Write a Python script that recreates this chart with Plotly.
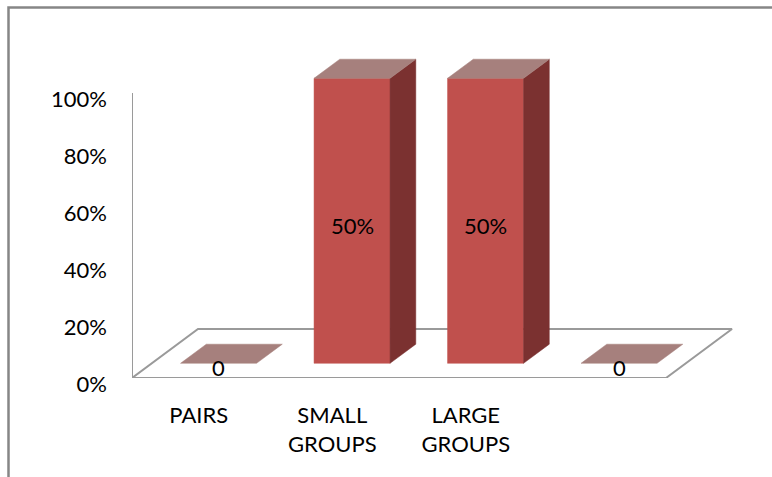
import plotly.graph_objects as go

# ---- data ----
categories = ["PAIRS", "SMALL<br>GROUPS", "LARGE<br>GROUPS", ""]
bar_heights = [0.0, 1.0, 1.0, 0.0]          # plotted height (share of axis)
bar_labels = ["0", "50%", "50%", "0"]       # data labels as printed
y_ticks = [0, 0.2, 0.4, 0.6, 0.8, 1.0]
y_tick_labels = ["0%", "20%", "40%", "60%", "80%", "100%"]

# ---- style / 3D projection parameters ----
FRONT = "#C0504D"
SIDE = "#7B3130"
TOP = "#A6807D"
GRID = "#9A9A9A"
FONT = "Lato"
FS = 22

ML, MR, MT, MB = 132, 0, 22, 99
W, H = 772, 477
PW, PH = W - ML - MR, H - MT - MB
PX_PER_X = 133.5
PX_PER_Y = 285.0
X_MAX = PW / PX_PER_X
Y_MAX = PH / PX_PER_Y

DEPTH_X = 66 / PX_PER_X      # full floor depth expressed in axis units
DEPTH_Y = 49 / PX_PER_Y
D_FRONT, D_BACK = 0.30, 0.69
HALF_W = 38 / PX_PER_X

n = len(categories)
fig = go.Figure()

# floor (outline)
fx = [0, n, n + DEPTH_X, DEPTH_X, 0]
fy = [0, 0, DEPTH_Y, DEPTH_Y, 0]
fig.add_trace(go.Scatter(x=fx, y=fy, mode="lines", line=dict(color=GRID, width=2),
                         hoverinfo="skip", showlegend=False))

ddx = (D_BACK - D_FRONT) * DEPTH_X
ddy = (D_BACK - D_FRONT) * DEPTH_Y


def poly(xs, ys, color):
    fig.add_trace(go.Scatter(x=xs + [xs[0]], y=ys + [ys[0]], mode="lines", fill="toself",
                             fillcolor=color, line=dict(color=color, width=0.5),
                             hoverinfo="skip", showlegend=False))


annotations = []
for i, (v, lab) in enumerate(zip(bar_heights, bar_labels)):
    cx = i + 0.5 + D_FRONT * DEPTH_X
    yb = D_FRONT * DEPTH_Y
    xl, xr = cx - HALF_W, cx + HALF_W
    yt = yb + v
    if v > 0:
        poly([xl, xr, xr, xl], [yb, yb, yt, yt], FRONT)
        poly([xr, xr + ddx, xr + ddx, xr], [yb, yb + ddy, yt + ddy, yt], SIDE)
    poly([xl, xr, xr + ddx, xl + ddx], [yt, yt, yt + ddy, yt + ddy], TOP)
    if v > 0:
        annotations.append(dict(x=cx, y=yb + v / 2, text=lab, showarrow=False,
                                yshift=-5, font=dict(family=FONT, size=FS, color="black")))
    else:
        annotations.append(dict(x=cx, y=yb, text=lab, showarrow=False,
                                yshift=-4, font=dict(family=FONT, size=FS, color="black")))

shapes = [
    # value axis line
    dict(type="line", xref="x", yref="y", x0=0, x1=0, y0=0, y1=y_ticks[-1],
         line=dict(color=GRID, width=2)),
    # chart border
    dict(type="rect", xref="paper", yref="paper",
         x0=(8.5 - ML) / PW, x1=1.05, y0=-0.4, y1=(H - MB - 7.5) / PH,
         line=dict(color="#868686", width=2.5), fillcolor="rgba(0,0,0,0)", layer="above"),
]

fig.update_layout(
    width=W, height=H,
    margin=dict(l=ML, r=MR, t=MT, b=MB, pad=0),
    paper_bgcolor="white", plot_bgcolor="white",
    font=dict(family=FONT, size=FS, color="black"),
    showlegend=False,
    shapes=shapes,
    annotations=annotations,
    xaxis=dict(range=[0, X_MAX], showgrid=False, zeroline=False, showline=False,
               tickvals=[i + 0.5 for i in range(n)], ticktext=categories,
               ticks="", ticklabelstandoff=22, fixedrange=True),
    yaxis=dict(range=[0, Y_MAX], showgrid=False, zeroline=False, showline=False,
               tickvals=y_ticks, ticktext=y_tick_labels, ticks="",
               ticklabelstandoff=24, ticklabelshift=6, fixedrange=True),
)

fig.write_html("out.html")
